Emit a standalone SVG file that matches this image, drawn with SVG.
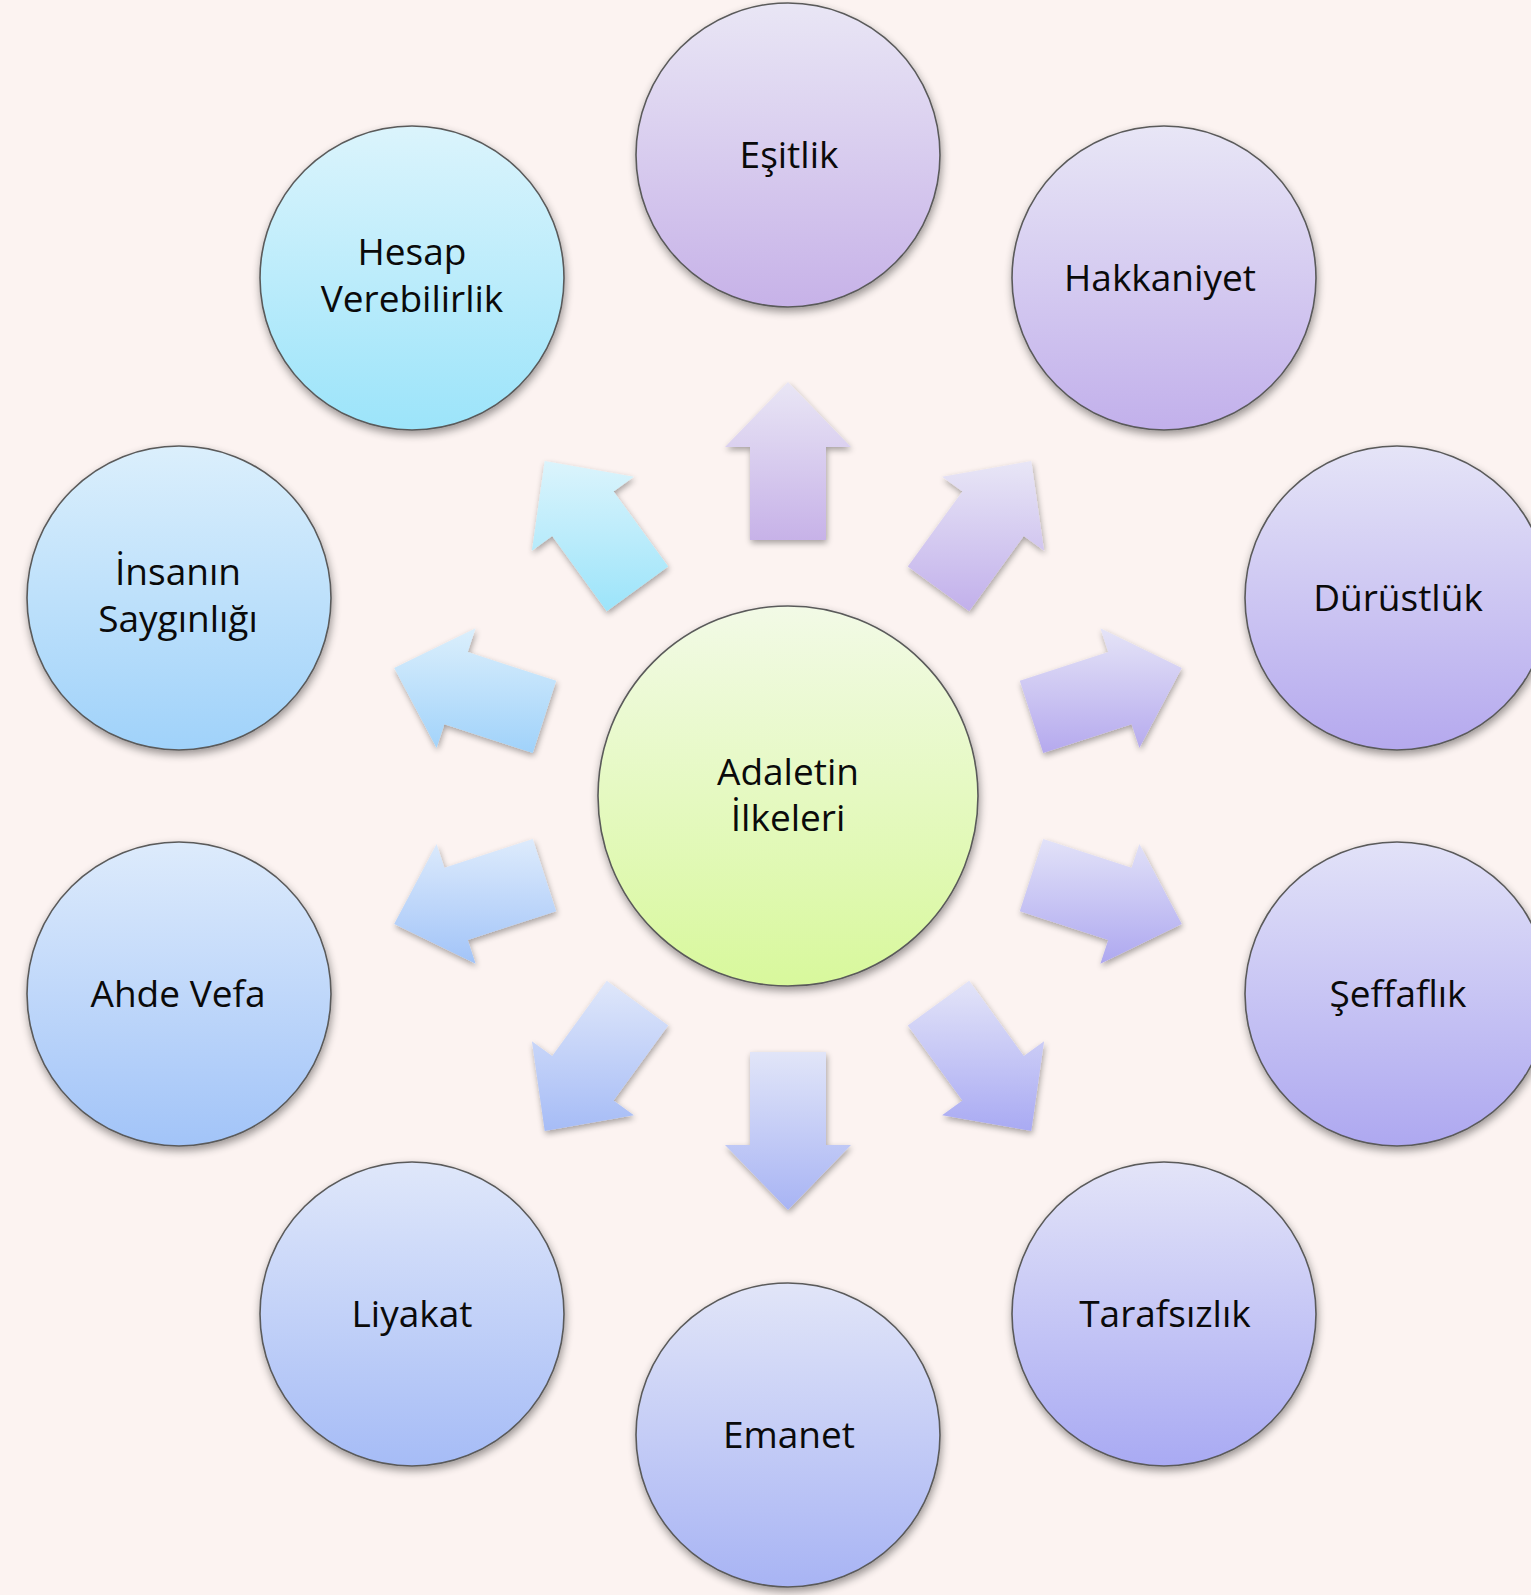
<svg xmlns="http://www.w3.org/2000/svg" width="1531" height="1595" viewBox="0 0 1531 1595">
<style>
.node circle{stroke:#5a5a5a;stroke-width:1.6;filter:url(#sh)}
.node text{font-family:"Open Sans","Noto Sans","Liberation Sans",sans-serif;font-size:37px;fill:#0a0a0a;text-anchor:middle}
.arrows polygon{filter:url(#sha);stroke:none}
</style>
<defs>
<filter id="sh" x="-20%" y="-20%" width="140%" height="145%">
<feGaussianBlur in="SourceAlpha" stdDeviation="4"/>
<feOffset dx="1" dy="4" result="b"/>
<feComponentTransfer><feFuncA type="linear" slope="0.4"/></feComponentTransfer>
<feMerge><feMergeNode/><feMergeNode in="SourceGraphic"/></feMerge>
</filter>
<filter id="sha" x="-20%" y="-20%" width="140%" height="145%">
<feGaussianBlur in="SourceAlpha" stdDeviation="3"/>
<feOffset dx="1" dy="3" result="b"/>
<feComponentTransfer><feFuncA type="linear" slope="0.35"/></feComponentTransfer>
<feMerge><feMergeNode/><feMergeNode in="SourceGraphic"/></feMerge>
</filter>
<linearGradient id="gC" x1="0" y1="0" x2="0" y2="1"><stop offset="0" stop-color="#F2FAE6"/><stop offset="1" stop-color="#D8F89C"/></linearGradient>
<linearGradient id="g0" x1="0" y1="0" x2="0" y2="1"><stop offset="0" stop-color="#E9E6F5"/><stop offset="1" stop-color="#C7B2E8"/></linearGradient>
<linearGradient id="g1" x1="0" y1="0" x2="0" y2="1"><stop offset="0" stop-color="#E8E6F6"/><stop offset="1" stop-color="#C2B0EB"/></linearGradient>
<linearGradient id="g2" x1="0" y1="0" x2="0" y2="1"><stop offset="0" stop-color="#E5E4F7"/><stop offset="1" stop-color="#B5A9EE"/></linearGradient>
<linearGradient id="g3" x1="0" y1="0" x2="0" y2="1"><stop offset="0" stop-color="#E2E2F8"/><stop offset="1" stop-color="#AEA8F0"/></linearGradient>
<linearGradient id="g4" x1="0" y1="0" x2="0" y2="1"><stop offset="0" stop-color="#E3E4F8"/><stop offset="1" stop-color="#A9AAF3"/></linearGradient>
<linearGradient id="g5" x1="0" y1="0" x2="0" y2="1"><stop offset="0" stop-color="#E1E5F8"/><stop offset="1" stop-color="#A8B4F4"/></linearGradient>
<linearGradient id="g6" x1="0" y1="0" x2="0" y2="1"><stop offset="0" stop-color="#DFE7FA"/><stop offset="1" stop-color="#A6BCF6"/></linearGradient>
<linearGradient id="g7" x1="0" y1="0" x2="0" y2="1"><stop offset="0" stop-color="#DDEBFC"/><stop offset="1" stop-color="#A2C4F8"/></linearGradient>
<linearGradient id="g8" x1="0" y1="0" x2="0" y2="1"><stop offset="0" stop-color="#DBEFFC"/><stop offset="1" stop-color="#A0D2FA"/></linearGradient>
<linearGradient id="g9" x1="0" y1="0" x2="0" y2="1"><stop offset="0" stop-color="#DBF4FC"/><stop offset="1" stop-color="#9CE4FA"/></linearGradient>
</defs>
<rect width="1531" height="1595" fill="#FCF3F1"/>

<g id="connectors" class="arrows">
<polygon fill="url(#g0)" points="826,540 826,447 851,447 788,382 725,447 750,447 750,540"/>
<polygon fill="url(#g1)" points="969.2,611.2 1023.8,536.0 1044.1,550.7 1031.3,461.1 942.1,476.7 962.4,491.4 907.8,566.6"/>
<polygon fill="url(#g2)" points="1043.2,753.0 1131.6,724.3 1139.4,748.1 1181.8,668.1 1100.4,628.3 1108.2,652.1 1019.8,680.8"/>
<polygon fill="url(#g3)" points="1019.8,911.2 1108.2,939.9 1100.4,963.7 1181.8,923.9 1139.4,843.9 1131.6,867.7 1043.2,839.0"/>
<polygon fill="url(#g4)" points="907.8,1025.4 962.4,1100.6 942.1,1115.3 1031.3,1130.9 1044.1,1041.3 1023.8,1056.0 969.2,980.8"/>
<polygon fill="url(#g5)" points="750,1052 750,1145 725,1145 788,1210 851,1145 826,1145 826,1052"/>
<polygon fill="url(#g6)" points="606.8,980.8 552.2,1056.0 531.9,1041.3 544.7,1130.9 633.9,1115.3 613.6,1100.6 668.2,1025.4"/>
<polygon fill="url(#g7)" points="532.8,839.0 444.4,867.7 436.6,843.9 394.2,923.9 475.6,963.7 467.8,939.9 556.2,911.2"/>
<polygon fill="url(#g8)" points="556.2,680.8 467.8,652.1 475.6,628.3 394.2,668.1 436.6,748.1 444.4,724.3 532.8,753.0"/>
<polygon fill="url(#g9)" points="668.2,566.6 613.6,491.4 633.9,476.7 544.7,461.1 531.9,550.7 552.2,536.0 606.8,611.2"/>
</g>

<g id="center" class="node">
<circle cx="788" cy="796" r="190" fill="url(#gC)"/>
<text x="788" y="785">Adaletin<tspan x="788" y="831">İlkeleri</tspan></text>
</g>
<g id="esitlik" class="node">
<circle cx="788" cy="155" r="152" fill="url(#g0)"/>
<text x="789" y="168">Eşitlik</text>
</g>
<g id="hakkaniyet" class="node">
<circle cx="1164" cy="278" r="152" fill="url(#g1)"/>
<text x="1160" y="291">Hakkaniyet</text>
</g>
<g id="durustluk" class="node">
<circle cx="1397" cy="598" r="152" fill="url(#g2)"/>
<text x="1398" y="611">Dürüstlük</text>
</g>
<g id="seffaflik" class="node">
<circle cx="1397" cy="994" r="152" fill="url(#g3)"/>
<text x="1398" y="1007">Şeffaflık</text>
</g>
<g id="tarafsizlik" class="node">
<circle cx="1164" cy="1314" r="152" fill="url(#g4)"/>
<text x="1165" y="1327">Tarafsızlık</text>
</g>
<g id="emanet" class="node">
<circle cx="788" cy="1435" r="152" fill="url(#g5)"/>
<text x="789" y="1448">Emanet</text>
</g>
<g id="liyakat" class="node">
<circle cx="412" cy="1314" r="152" fill="url(#g6)"/>
<text x="412" y="1327">Liyakat</text>
</g>
<g id="ahde-vefa" class="node">
<circle cx="179" cy="994" r="152" fill="url(#g7)"/>
<text x="178" y="1007">Ahde Vefa</text>
</g>
<g id="insanin-sayginligi" class="node">
<circle cx="179" cy="598" r="152" fill="url(#g8)"/>
<text x="178" y="585">İnsanın<tspan x="178" y="632">Saygınlığı</tspan></text>
</g>
<g id="hesap-verebilirlik" class="node">
<circle cx="412" cy="278" r="152" fill="url(#g9)"/>
<text x="412" y="265">Hesap<tspan x="412" y="312">Verebilirlik</tspan></text>
</g>
</svg>
